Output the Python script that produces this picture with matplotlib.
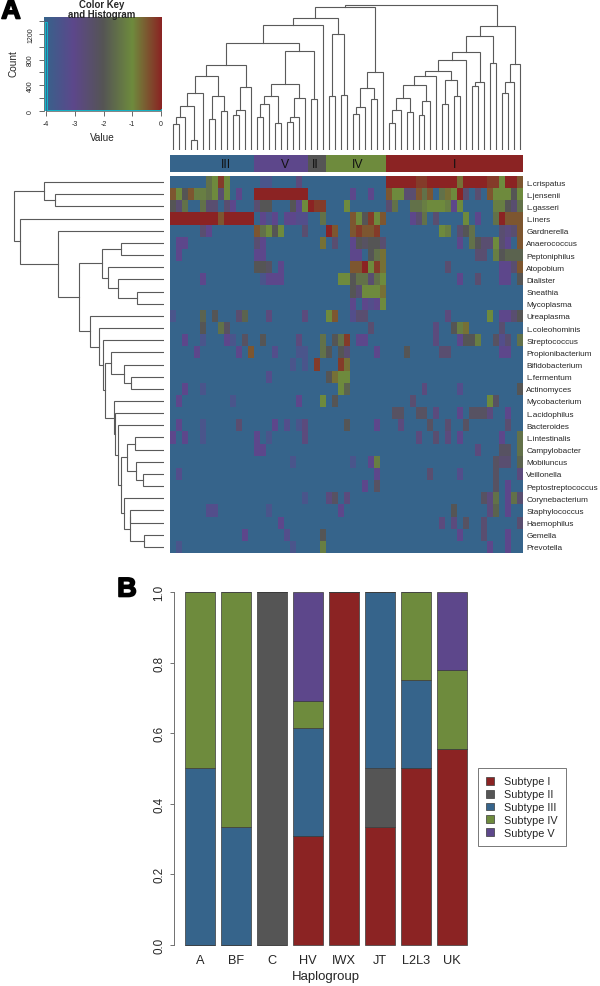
import numpy as np
import matplotlib
matplotlib.use("Agg")
import matplotlib.pyplot as plt
import matplotlib.patheffects as pe
from matplotlib.colors import LinearSegmentedColormap, ListedColormap
from matplotlib.patches import Patch

plt.rcParams['font.family'] = ['Liberation Sans', 'DejaVu Sans']

W, H = 600, 987

# heatmap, one row per taxon, only the cells that are not background
# (column, level) with level 0 = value -4 ... level 8 = value 0
taxa = ["L.crispatus", "L.jensenii", "L.gasseri", "L.iners", "Gardnerella", "Anaerococcus",
        "Peptoniphilus", "Atopobium", "Dialister", "Sneathia", "Mycoplasma", "Ureaplasma",
        "L.coleohominis", "Streptococcus", "Propionibacterium", "Bifidobacterium", "L.fermentum",
        "Actinomyces", "Mycobacterium", "L.acidophilus", "Bacteroides", "L.intestinalis",
        "Campylobacter", "Mobiluncus", "Veillonella", "Peptostreptococcus", "Corynebacterium",
        "Staphylococcus", "Haemophilus", "Gemella", "Prevotella"]
n_cols = 59

red_run_jensenii = [(c, 8) for c in range(14, 23)]
red_run_iners = [(c, 8) for c in range(0, 8)] + [(8, 7)] + [(c, 8) for c in range(9, 14)]
red_run_crispatus = [(c, 8) for c in range(36, 41)] + [(41, 7.5), (42, 7.5)] + [(c, 8) for c in range(43, 48)]

cells = [
    [(6, 5), (7, 6), (8, 7.5), (9, 6), (15, 1), (16, 1), (21, 2.5)] + red_run_crispatus
    + [(48, 6.5), (49, 8), (50, 8), (51, 8), (52, 8), (53, 7.5), (54, 7.5), (55, 6), (56, 8), (57, 8), (58, 7)],
    [(0, 7), (1, 6), (2, 4), (3, 7), (4, 5.5), (5, 5.5), (6, 5), (7, 6), (8, 3), (9, 6), (11, 2), (30, 2), (33, 2),
     (36, 7), (37, 6), (38, 6), (39, 3), (40, 3), (41, 7), (42, 5), (43, 7), (45, 5), (46, 6.5), (47, 6), (48, 8),
     (49, 3), (51, 3), (53, 7), (54, 6), (55, 6), (56, 6), (57, 4), (58, 6)] + red_run_jensenii,
    [(0, 4), (1, 3), (2, 5), (5, 5), (6, 3), (7, 3), (9, 3), (10, 2), (14, 3), (15, 4), (16, 4), (20, 4), (21, 2),
     (22, 6), (23, 8), (24, 7.5), (25, 7.5), (29, 6), (36, 3), (37, 5), (40, 5), (41, 5), (42, 5.5), (43, 6), (44, 6),
     (45, 6), (46, 5.5), (47, 2), (48, 6), (54, 5.5), (55, 5.5), (56, 4), (57, 3), (58, 5)],
    red_run_iners + [(15, 2), (16, 1), (17, 2), (19, 2), (20, 2), (21, 1.5), (22, 1.5), (25, 5), (30, 7), (31, 6),
     (32, 4), (33, 7.5), (34, 6), (35, 7), (40, 2), (41, 3), (42, 5), (44, 3), (49, 6), (51, 2), (54, 5), (55, 8),
     (56, 7), (57, 7), (58, 7)],
    [(5, 3), (6, 2), (14, 7), (15, 5), (16, 6), (17, 4), (18, 6), (22, 3), (26, 8), (27, 7), (30, 7), (31, 7.5),
     (32, 7), (33, 7), (34, 7.5), (45, 6), (46, 5.5), (48, 3), (49, 4), (50, 5), (55, 3), (56, 2.5), (57, 3), (58, 7)],
    [(1, 2), (2, 2), (14, 3), (15, 2), (25, 6.5), (27, 3), (30, 2), (31, 4), (32, 3.5), (33, 4), (34, 4), (35, 3),
     (48, 2), (50, 5), (51, 4), (52, 3), (53, 3), (54, 6), (55, 3), (56, 2), (58, 7)],
    [(1, 2), (14, 2), (15, 2), (30, 2), (31, 2), (33, 4), (34, 5), (35, 6.5), (51, 3), (52, 3), (54, 5.5), (55, 4),
     (56, 4.5), (57, 4.5), (58, 4.5)],
    [(14, 4), (15, 4), (16, 3.5), (18, 2), (30, 7), (31, 7), (32, 8), (33, 6), (34, 7.5), (35, 6.5), (46, 3), (55, 2),
     (56, 2), (57, 3), (58, 7)],
    [(5, 2), (15, 1), (16, 2), (17, 2), (18, 2), (28, 6), (29, 6), (30, 4), (31, 5), (32, 5), (33, 3), (34, 5), (35, 6),
     (48, 2), (51, 3), (55, 2), (56, 2), (58, 4)],
    [(30, 4), (31, 3), (32, 6), (33, 6), (34, 6), (35, 6.5)],
    [(30, 2), (32, 2), (33, 1.5), (34, 2), (35, 6)],
    [(0, 1), (5, 4.5), (7, 4), (11, 3), (12, 4.5), (16, 2.5), (22, 2.5), (26, 6), (27, 7), (30, 1.5), (31, 3), (32, 3),
     (46, 2.5), (53, 6), (55, 2), (56, 2), (57, 3), (58, 4)],
    [(5, 4), (8, 5), (9, 3.5), (33, 3), (44, 2.5), (47, 4), (48, 5.5), (49, 6.5), (55, 3)],
    [(2, 2), (5, 1), (9, 2), (10, 1), (12, 3.5), (15, 4), (21, 2.5), (25, 5), (27, 4), (28, 5), (29, 7.5), (31, 2),
     (32, 2), (44, 2.5), (48, 2), (49, 4), (50, 4), (51, 5.5), (54, 3.5), (55, 1.5), (56, 3), (58, 5)],
    [(4, 2), (11, 2), (13, 7), (17, 1.5), (21, 1), (22, 1), (25, 5), (26, 4), (28, 4), (29, 3), (34, 2), (39, 4),
     (45, 3), (46, 3), (55, 2), (56, 2)],
    [(20, 1), (22, 1), (24, 7.5), (28, 7.5), (29, 6.5)],
    [(16, 1.5), (26, 4), (27, 6.5), (28, 6), (29, 6)],
    [(2, 2), (5, 1), (28, 6), (29, 4.5), (42, 2.5), (48, 1.5), (58, 4)],
    [(1, 2), (10, 1), (21, 2), (25, 6), (27, 4), (40, 3), (53, 6), (54, 3.5)],
    [(37, 3.5), (38, 3.5), (41, 3.5), (42, 3.5), (44, 2.5), (48, 2), (50, 3.5), (51, 3.5), (52, 3.5), (53, 2.5), (56, 2)],
    [(1, 2), (5, 1), (11, 3), (17, 2), (19, 1.5), (21, 1), (22, 2.5), (29, 4), (34, 2), (38, 2.5), (43, 3.5), (46, 3),
     (49, 3.5), (56, 3)],
    [(0, 2), (2, 2), (5, 1), (14, 2), (16, 1), (22, 2.5), (41, 2.5), (44, 3), (46, 2.5), (48, 2), (55, 2), (58, 5)],
    [(14, 2), (15, 2), (51, 2.5), (55, 3.5), (56, 3.5), (58, 5)],
    [(20, 1), (30, 1), (33, 2), (34, 5.5), (54, 3.5), (55, 3), (56, 3), (58, 4.5)],
    [(1, 1.5), (34, 2), (43, 3), (48, 1.5), (54, 3.5), (58, 2.5)],
    [(32, 2), (34, 3.5), (54, 3.5), (56, 2)],
    [(22, 1), (26, 2.5), (27, 3.5), (29, 2.5), (52, 3.5), (53, 2.5), (54, 5), (56, 2), (57, 5), (58, 3)],
    [(6, 1.5), (7, 1.5), (16, 1), (28, 2), (47, 4), (53, 2.5), (54, 4.5), (56, 2)],
    [(18, 2), (45, 2.5), (47, 2.5), (49, 3.5), (52, 3), (58, 3)],
    [(12, 2), (19, 1.5), (25, 4), (48, 2), (52, 3), (56, 2)],
    [(1, 1), (20, 1), (25, 5.5), (53, 2), (56, 2)],
]

# dendrograms as (height, left, right), plain ints are leaves
clade_a = (169, (130, (97, (77, 0, 1), 2), (28, 3, 4)), 5)
clade_b = (160, (91, 6, 7), (115, 8, 9))
clade_c = (187, (120, (104, 10, 11), 12), 13)
clade_abc = (255, (220, clade_a, clade_b), clade_c)
clade_d = (160, (138, (97, 14, 15), 16), (81, 17, 18))
clade_e = (156, (98, (82, 19, 20), 21), 22)
clade_def = (295, (198, clade_d, clade_e), (152, 23, 24))
clade_left = (394, (374, (320, clade_abc, clade_def), 25), (346, (161, 26, 27), (163, 28, 29)))
clade_h = (233, (184, (127, (108, 30, 31), 32), (152, 33, 34)), 35)
clade_i = (193, (156, (119, (79, 36, 37), 38), (112, 39, 40)), (146, (103, 41, 42), 43))
clade_j = (268, (235, (222, clade_i, 44), (210, (136, 45, 46), (161, 47, 48))), 49)
clade_right = (372, (340, (292, clade_j, (203, (190, 50, 51), 52)), (259, 53, 54)),
               (256, (204, (169, 55, 56), 57), 58))
col_tree = (434, (427, clade_left, clade_h), clade_right)

row_low = (128, (112, (88, 21, 22), (83, 23, (62, 24, 25))), (119, 26, (103, (101, 27, 28), (59, 29, 30))))
row_mid = (176, (158, 14, (119, 15, (100, 16, 17))), (151, 18, (148, 19, (137, 20, row_low))))
row_rest = (221, 11, (196, 12, (182, 13, row_mid)))
row_top = (186, (128, 5, 6), (169, 7, (138, 8, (80, 9, 10))))
row_tree = (449, (359, 0, (326, 1, 2)), (431, 3, (317, 4, (256, row_top, row_rest))))

# subtype strip
subtype_names = ["III", "V", "II", "IV", "I"]
subtype_first = [0, 14, 23, 26, 36]
subtype_last = [13, 22, 25, 35, 58]
subtype_codes = [2, 4, 1, 3, 0]
subtype_label_col = [9.4, 19.2, 24.2, 31.3, 47.6]

key_x = [-4.0, -3.97, -3.0, -2.0, -1.0, 0.0]
key_count = [1392, 15, 12, 10, 14, 30]
key_yticks = [0, 200, 400, 600, 800, 1000, 1200, 1400]

# stacked bars
haplogroups = ["A", "BF", "C", "HV", "IWX", "JT", "L2L3", "UK"]
subtypes = ["Subtype I", "Subtype II", "Subtype III", "Subtype IV", "Subtype V"]
share_I = [0, 0, 0, 0.3077, 1, 0.3333, 0.5, 0.5556]
share_II = [0, 0, 1, 0, 0, 0.1667, 0, 0]
share_III = [0.5, 0.3333, 0, 0.3077, 0, 0.5, 0.25, 0]
share_IV = [0.5, 0.6667, 0, 0.0769, 0, 0, 0.25, 0.2222]
share_V = [0, 0, 0, 0.3077, 0, 0, 0, 0.2222]

BLUE, PURPLE, GRAY, GREEN, RED = "#36648B", "#5D478B", "#555555", "#6E8B3D", "#8B2323"
SUB_COLORS = [RED, GRAY, BLUE, GREEN, PURPLE]
LINE = "#5a5a5a"
TEXT = "#262626"

cmap = LinearSegmentedColormap.from_list("key", [BLUE, PURPLE, GRAY, GREEN, RED])

fig = plt.figure(figsize=(W / 100, H / 100), dpi=100)


def px_axes(x0, y0, x1, y1):
    return fig.add_axes([x0 / W, 1 - y1 / H, (x1 - x0) / W, (y1 - y0) / H])


def walk(node, segs):
    # returns leaf-axis position and height, adds the three lines of every merge
    if isinstance(node, int):
        return node + 0.5, 0
    h, left, right = node
    a, ha = walk(left, segs)
    b, hb = walk(right, segs)
    segs.append(([a, a, b, b], [ha, h, h, hb]))
    return (a + b) / 2, h


# colour key
ax = px_axes(43.7, 18.3, 161, 111.7)
ax.imshow(np.linspace(-4, 0, 256)[None, :], extent=(-4.08, 0, 0, 1460), aspect="auto",
          cmap=cmap, vmin=-4, vmax=0, interpolation="bilinear")
ax.step(key_x, key_count, where="post", color="#12B5C9", lw=0.7, clip_on=False, solid_joinstyle="miter")
ax.vlines(-4.03, 0, key_count[0], color="#12B5C9", lw=1.6)
ax.set_xlim(-4.08, 0)
ax.set_ylim(0, 1460)
for s in ("top", "right"):
    ax.spines[s].set_visible(False)
ax.spines["bottom"].set_bounds(-4, 0)
ax.spines["left"].set_bounds(0, 1400)
for s in ("bottom", "left"):
    ax.spines[s].set_color("#707070")
    ax.spines[s].set_linewidth(0.6)
ax.set_xticks([-4, -3, -2, -1, 0])
ax.set_xticklabels(["-4", "-3", "-2", "-1", "0"])
ax.set_yticks(key_yticks)
ax.set_yticklabels(["0", "", "400", "", "800", "", "1200", ""], rotation=90, va="center")
ax.tick_params(length=3.4, width=0.6, color="#505050", labelsize=5, labelcolor=TEXT, pad=3.5)
fig.text(102 / W, 1 - 138 / H, "Value", ha="center", va="center", fontsize=7.2, color=TEXT)
fig.text(13.5 / W, 1 - 64 / H, "Count", ha="center", va="center", rotation=90, fontsize=7.2, color=TEXT)
fig.text(102 / W, 1 - 4.5 / H, "Color Key", ha="center", va="center", fontsize=6.9, fontweight="bold", color=TEXT)
fig.text(102 / W, 1 - 15 / H, "and Histogram", ha="center", va="center", fontsize=6.9, fontweight="bold", color=TEXT)

# column dendrogram
ax = px_axes(170, 0, 523.3, 150.7)
segs = []
walk(col_tree, segs)
for xs, ys in segs:
    ax.plot(xs, ys, color=LINE, lw=0.8, solid_joinstyle="miter")
ax.set_xlim(0, n_cols)
ax.set_ylim(0, 452)
ax.axis("off")

# row dendrogram
ax = px_axes(0, 177, 164, 554)
segs = []
walk(row_tree, segs)
for ys, xs in segs:
    ax.plot(xs, ys, color=LINE, lw=0.8, solid_joinstyle="miter")
ax.set_xlim(492, 0)
ax.set_ylim(len(taxa), 0)
ax.axis("off")

# subtype strip
ax = px_axes(170, 156, 523.3, 173)
strip = np.zeros((1, n_cols), dtype=int)
for first, last, code in zip(subtype_first, subtype_last, subtype_codes):
    strip[0, first:last + 1] = code
ax.pcolormesh(strip, cmap=ListedColormap(SUB_COLORS), vmin=-0.5, vmax=4.5)
for name, col in zip(subtype_names, subtype_label_col):
    ax.text(col, 0.5, name, ha="center", va="center", fontsize=8.8, color="#111111")
ax.set_xlim(0, n_cols)
ax.set_ylim(0, 1)
ax.axis("off")

# heatmap
matrix = np.full((len(taxa), n_cols), -4.0)
for i, row in enumerate(cells):
    for col, level in row:
        matrix[i, col] = -4 + 0.5 * level
ax = px_axes(170, 177, 523.3, 554)
ax.pcolormesh(matrix, cmap=cmap, vmin=-4, vmax=0)
ax.set_xlim(0, n_cols)
ax.set_ylim(len(taxa), 0)
ax.set_xticks([])
ax.set_yticks(np.arange(len(taxa)) + 0.5)
ax.set_yticklabels(taxa, fontsize=5.9, color=TEXT)
ax.yaxis.tick_right()
ax.tick_params(axis="y", length=0, pad=2.2)
for s in ax.spines.values():
    s.set_visible(False)

# stacked bars
ax = px_axes(174, 593, 470, 945.7)
pos = 0.7 + 1.2 * np.arange(len(haplogroups))
bottom = np.zeros(len(haplogroups))
handles = []
for name, vals, color in zip(subtypes, [share_I, share_II, share_III, share_IV, share_V], SUB_COLORS):
    vals = np.array(vals)
    ax.bar(pos, vals, 1.0, bottom=bottom, color=color, edgecolor="#3a3a3a", linewidth=0.5, clip_on=False)
    bottom = bottom + vals
    handles.append(Patch(facecolor=color, edgecolor="#3a3a3a", linewidth=0.5, label=name))
ax.set_xlim(0.2 - 11 / 30, 0.2 + 285 / 30)
ax.set_ylim(0, 1)
for s in ("top", "right", "bottom"):
    ax.spines[s].set_visible(False)
ax.spines["left"].set_color("#707070")
ax.spines["left"].set_linewidth(0.7)
ax.set_xticks(pos)
ax.set_xticklabels(haplogroups, fontsize=9.2, color=TEXT)
ax.tick_params(axis="x", length=0, pad=6.5)
ax.set_yticks([0, 0.2, 0.4, 0.6, 0.8, 1.0])
ax.set_yticklabels(["0.0", "0.2", "0.4", "0.6", "0.8", "1.0"], rotation=90, va="center", fontsize=8.4, color=TEXT)
ax.tick_params(axis="y", length=3, width=0.7, color="#707070", pad=3)
fig.text(325.7 / W, 1 - 977 / H, "Haplogroup", ha="center", va="center", fontsize=9.5, color=TEXT)
leg = ax.legend(handles=handles, loc="upper left", bbox_to_anchor=(478 / W, 1 - 769.3 / H),
                bbox_transform=fig.transFigure, borderaxespad=0, fontsize=7.8, fancybox=False,
                edgecolor="#777777", framealpha=1, handlelength=0.74, handleheight=0.74,
                labelspacing=0.27, handletextpad=0.9, borderpad=0.75, labelcolor=TEXT)
leg.get_frame().set_linewidth(0.7)

# panel letters
for label, x, y in (("A", 11, 12.5), ("B", 127, 590.5)):
    fig.text(x / W, 1 - y / H, label, ha="center", va="center", fontsize=19.5, fontweight="bold", color="black",
             path_effects=[pe.withStroke(linewidth=1.2, foreground="black")])

fig.savefig("out.png", dpi=100)
